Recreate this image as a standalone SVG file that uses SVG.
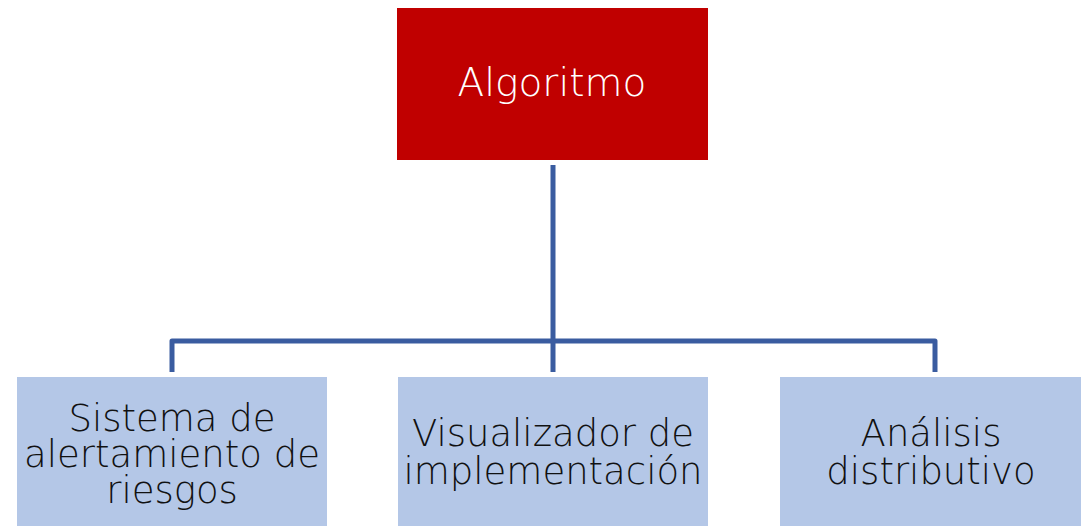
<svg xmlns="http://www.w3.org/2000/svg" width="1081" height="526" viewBox="0 0 1081 526">
<style>
.t{font-family:"DejaVu Sans","Liberation Sans",sans-serif;font-weight:300;text-anchor:middle;font-size:37px;fill:#111}
.w{fill:#fff;font-size:39px}
.c{fill:none;stroke:#3A5CA0;stroke-width:5;stroke-linejoin:round}
.leaf{fill:#B4C7E7}
</style>
<rect width="1081" height="526" fill="#fff"/>
<g id="connectors">
<path class="c" d="M172,372 V341 H935 V372"/>
<path class="c" d="M553,165 V372"/>
</g>
<g id="algoritmo">
<rect x="397" y="8" width="311" height="152" fill="#C00000"/>
<text class="t w" x="552" y="96">Algoritmo</text>
</g>
<g id="sistema">
<rect class="leaf" x="17" y="377" width="310" height="149"/>
<text class="t" x="172" y="431">Sistema de</text>
<text class="t" x="172" y="467">alertamiento de</text>
<text class="t" x="172" y="503">riesgos</text>
</g>
<g id="visualizador">
<rect class="leaf" x="398" y="377" width="310" height="149"/>
<text class="t" x="553" y="446">Visualizador de</text>
<text class="t" x="553" y="484">implementación</text>
</g>
<g id="analisis">
<rect class="leaf" x="780" y="377" width="301" height="149"/>
<text class="t" x="931" y="446">Análisis</text>
<text class="t" x="931" y="484">distributivo</text>
</g>
</svg>
